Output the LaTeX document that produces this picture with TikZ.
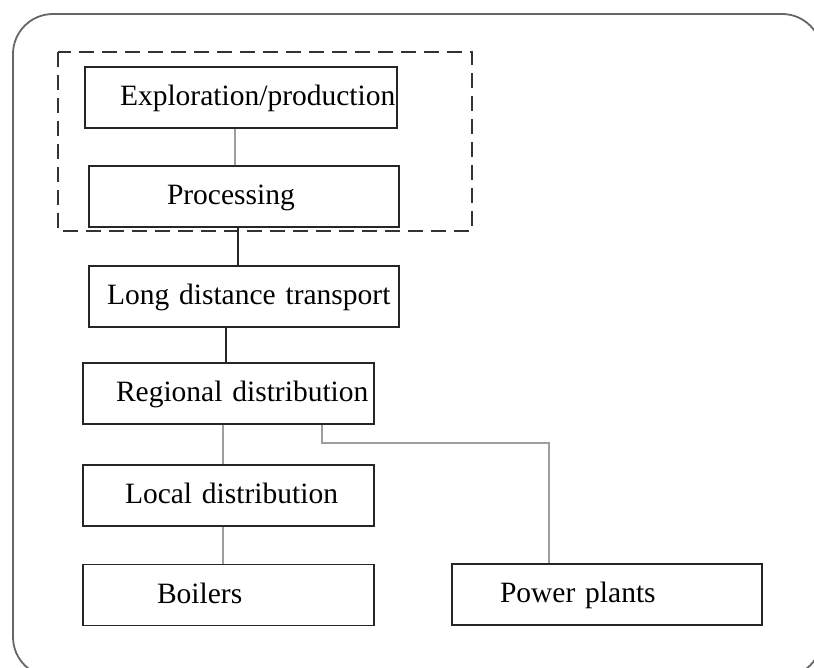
\documentclass[tikz,border=0pt]{standalone}
\usepackage{fontspec}
\setmainfont{Liberation Serif}[WordSpace=0.7]
\usepackage{tikz}
\usetikzlibrary{positioning,calc}

\begin{document}
\begin{tikzpicture}[x=1pt,y=-1pt,
  box/.style={draw=black!85,line width=1.6pt,minimum height=61pt,inner xsep=0pt,inner ysep=0pt,
    align=left,text height=22pt,text depth=6pt,font=\fontsize{29.5}{34}\selectfont},
  graylink/.style={draw=black!38,line width=1.5pt},
  darklink/.style={draw=black!85,line width=1.5pt},
  group/.style={draw=black!80,line width=1.3pt,dash pattern=on 15pt off 8pt},
  frame/.style={draw=black!60,line width=1.8pt,rounded corners=40pt}]
  \useasboundingbox (0,0) rectangle (814,668);
  \clip (0,0) rectangle (814,668);
  \draw[frame] (13,14) rectangle (822,677);
  \draw[group] (58,52) rectangle (472,231);
  \node[box,text width=312pt](expl) at (241,97.5){\hspace*{35pt}Exploration/production};
  \node[box,text width=310pt](proc) at (244,196.5){\hspace*{78pt}Processing};
  \node[box,text width=310pt](long) at (244,296.5){\hspace*{18pt}Long distance transport};
  \node[box,text width=291pt](regn) at (228.5,393.5){\hspace*{33pt}Regional distribution};
  \node[box,text width=291pt](locl) at (228.5,495.5){\hspace*{42pt}Local distribution};
  \node[box,text width=291pt](boil) at (228.5,595){\hspace*{74pt}Boilers};
  \node[box,text width=310pt](powr) at (607,594.5){\hspace*{48pt}Power plants};
  \draw[graylink] ([xshift=-6pt]expl.south) -- ([xshift=-6pt]expl.south |- proc.north);
  \draw[darklink] ([xshift=-6pt]proc.south) -- ([xshift=-6pt]proc.south |- long.north);
  \draw[darklink] ([xshift=-18pt]long.south) -- ([xshift=-18pt]long.south |- regn.north);
  \draw[graylink] ([xshift=-5.5pt]regn.south) -- ([xshift=-5.5pt]regn.south |- locl.north);
  \draw[graylink] ([xshift=-5.5pt]locl.south) -- ([xshift=-5.5pt]locl.south |- boil.north);
  \draw[graylink] ([xshift=93.5pt]regn.south) -- ++(0,18) -| ([xshift=-58pt]powr.north);
\end{tikzpicture}
\end{document}
